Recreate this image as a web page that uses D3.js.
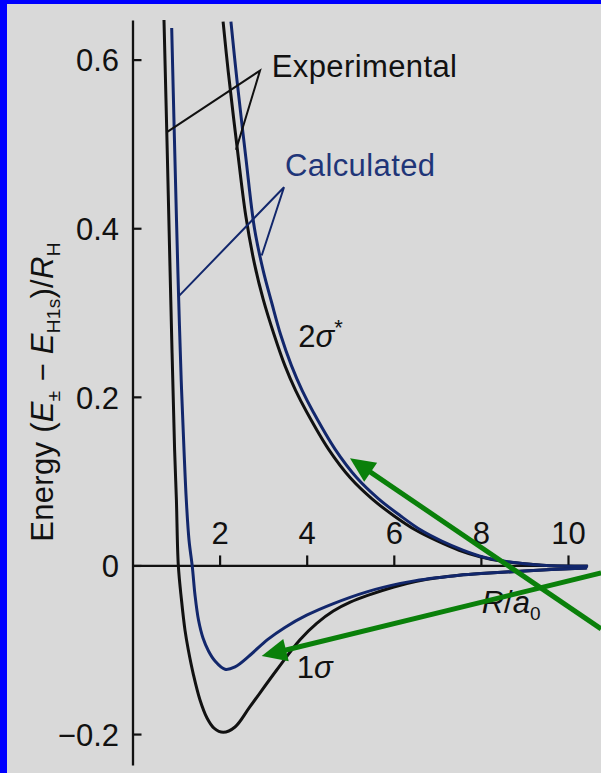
<!DOCTYPE html>
<html>
<head>
<meta charset="utf-8">
<script src="https://cdn.jsdelivr.net/npm/d3@7"></script>
<style>
  html, body { margin: 0; padding: 0; background: #0000ff; }
  svg { display: block; }
  text { font-family: "Liberation Sans", Arial, Helvetica, sans-serif; }
</style>
</head>
<body>
<svg id="chart" width="601" height="773"></svg>
<script>
// ---- data (R in a0, energy in Rydberg units) ----
const expSigmaR  = [0.723, 0.797, 0.879, 0.967, 1.008, 1.052, 1.125, 1.206, 1.281, 1.401, 1.550, 1.711, 1.871, 2.085, 2.354, 2.698, 3.311, 3.846, 4.230, 4.611, 5.0, 5.4, 6.0, 6.5, 7.0, 7.5, 8.0, 9.0, 10.42];
const expSigmaE  = [0.647, 0.493, 0.315, 0.137, 0.078, 0.000, -0.041, -0.077, -0.100, -0.130, -0.1596, -0.181, -0.193, -0.198, -0.1916, -0.1675, -0.124, -0.088, -0.0686, -0.054, -0.0435, -0.0355, -0.0255, -0.019, -0.0145, -0.0115, -0.0095, -0.0065, -0.003];

const calcSigmaR = [0.900, 0.9575, 1.0103, 1.0609, 1.1183, 1.1825, 1.2354, 1.2974, 1.3731, 1.4351, 1.5155, 1.6188, 1.7451, 1.8944, 2.124, 2.354, 2.698, 3.1, 3.5, 4.0, 4.6, 5.4, 6.15, 6.5, 7.0, 7.5, 8.0, 9.0, 10.44];
const calcSigmaE = [0.6376, 0.5166, 0.4098, 0.3149, 0.2200, 0.1370, 0.0777, 0.0302, -0.0014, -0.035, -0.0647, -0.0860, -0.1014, -0.1133, -0.1231, -0.1203, -0.1065, -0.088, -0.0735, -0.059, -0.0455, -0.031, -0.0213, -0.018, -0.0145, -0.0115, -0.0095, -0.0065, -0.003];

const expStarR   = [2.08, 2.2, 2.4, 2.6, 2.8, 3.0, 3.25, 3.5, 3.75, 4.0, 4.5, 5.0, 5.5, 6.0, 6.5, 7.0, 7.5, 8.0, 8.5, 9.0, 9.5, 10.44];
const expStarE   = [0.645, 0.585, 0.497, 0.415, 0.358, 0.316, 0.274, 0.237, 0.207, 0.182, 0.138, 0.104, 0.079, 0.059, 0.042, 0.029, 0.018, 0.010, 0.005, 0.002, 0.000, -0.001];

const calcStarR  = [2.26, 2.4, 2.6, 2.8, 3.0, 3.2, 3.4, 3.65, 3.9, 4.15, 4.65, 5.15, 5.65, 6.15, 6.62, 7.1, 7.6, 8.05, 8.55, 9.0, 9.5, 10.46];
const calcStarE  = [0.645, 0.575, 0.485, 0.400, 0.350, 0.311, 0.274, 0.237, 0.207, 0.182, 0.138, 0.104, 0.079, 0.059, 0.042, 0.029, 0.018, 0.010, 0.005, 0.002, 0.000, -0.001];

const xTicks = [2, 4, 6, 8, 10];
const yTicks = [-0.2, 0, 0.2, 0.4, 0.6];

// leader lines (data units)
const expLeaderR  = [0.808, 2.928, 2.377];
const expLeaderE  = [0.5146, 0.587, 0.4929];
const calcLeaderR = [1.052, 3.479, 2.967];
const calcLeaderE = [0.3189, 0.4486, 0.3677];

// annotation arrows: [R, E] of start (off right edge) and tip
const arrowStarts = [[10.76, -0.0753], [10.76, -0.0089]];
const arrowTips   = [[4.994, 0.1272], [2.967, -0.1074]];

// ---- layout ----
const W = 601, H = 773;
const svg = d3.select("#chart");
svg.append("rect").attr("x", 0).attr("y", 0).attr("width", W).attr("height", H).attr("fill", "#0000ff");
svg.append("rect").attr("x", 7).attr("y", 4).attr("width", W - 7).attr("height", H - 4).attr("fill", "#d9d9d9");

const x = d3.scaleLinear().domain([0, 10.45]).range([132.5, 132.5 + 43.55 * 10.45]);
const y = d3.scaleLinear().domain([-0.2367, 0.647]).range([765, 20]);

const BLACK = "#111111", NAVY = "#12276c", NAVYTXT = "#1f3578", GREEN = "#0a800a";
const FONT = 31, LS = 0.4;

// y axis
const yAxis = d3.axisLeft(y).tickValues(yTicks)
  .tickSizeInner(-9).tickSizeOuter(0).tickPadding(13.5)
  .tickFormat(d => d === 0 ? "0" : d3.format(".1f")(d));
const gy = svg.append("g").attr("transform", `translate(${x(0)},0)`).call(yAxis);
gy.select(".domain").attr("stroke", BLACK).attr("stroke-width", 2.3);
gy.selectAll(".tick line").attr("stroke", BLACK).attr("stroke-width", 2.2);
gy.selectAll(".tick text").attr("font-size", FONT).attr("fill", BLACK)
  .attr("font-family", "'Liberation Sans', Arial, sans-serif").attr("dy", "0.36em");

// x axis (at E = 0)
const xAxis = d3.axisTop(x).tickValues(xTicks).tickSizeInner(10).tickSizeOuter(0).tickPadding(11.5);
const gx = svg.append("g").attr("transform", `translate(0,${y(0)})`).call(xAxis);
gx.select(".domain").attr("stroke", BLACK).attr("stroke-width", 2.3);
gx.selectAll(".tick line").attr("stroke", BLACK).attr("stroke-width", 2.2);
gx.selectAll(".tick text").attr("font-size", FONT).attr("fill", BLACK)
  .attr("font-family", "'Liberation Sans', Arial, sans-serif");

// curves
const line = d3.line().x(d => x(d[0])).y(d => y(d[1])).curve(d3.curveCatmullRom.alpha(0.5));
const zip = (a, b) => a.map((v, i) => [v, b[i]]);
const curves = [
  {R: expSigmaR, E: expSigmaE, c: BLACK},
  {R: expStarR, E: expStarE, c: BLACK},
  {R: calcSigmaR, E: calcSigmaE, c: NAVY},
  {R: calcStarR, E: calcStarE, c: NAVY}
];
svg.selectAll("path.curve").data(curves).enter().append("path")
  .attr("class", "curve")
  .attr("d", d => line(zip(d.R, d.E)))
  .attr("fill", "none").attr("stroke", d => d.c).attr("stroke-width", 3)
  .attr("stroke-linejoin", "round");

// leader lines
const straight = d3.line().x(d => x(d[0])).y(d => y(d[1]));
svg.append("path").attr("d", straight(zip(expLeaderR, expLeaderE)))
  .attr("fill", "none").attr("stroke", BLACK).attr("stroke-width", 2);
svg.append("path").attr("d", straight(zip(calcLeaderR, calcLeaderE)))
  .attr("fill", "none").attr("stroke", NAVY).attr("stroke-width", 2);

// labels
svg.append("text").attr("x", x(3.196)).attr("y", y(0.5791)).attr("font-size", FONT)
  .attr("letter-spacing", LS).attr("fill", BLACK).text("Experimental");
svg.append("text").attr("x", x(3.502)).attr("y", y(0.4624)).attr("font-size", FONT)
  .attr("letter-spacing", LS).attr("fill", NAVYTXT).text("Calculated");

const t2 = svg.append("text").attr("x", x(3.807)).attr("y", y(0.2586)).attr("font-size", FONT).attr("fill", BLACK);
t2.append("tspan").text("2");
t2.append("tspan").attr("font-style", "italic").text("σ");
t2.append("tspan").attr("font-size", 22).attr("dy", -12).text("*");

const t1 = svg.append("text").attr("x", x(3.770)).attr("y", y(-0.1331)).attr("font-size", FONT).attr("fill", BLACK);
t1.append("tspan").text("1");
t1.append("tspan").attr("font-style", "italic").text("σ");

const tr = svg.append("text").attr("x", x(8.018)).attr("y", y(-0.0567)).attr("font-size", FONT).attr("fill", BLACK);
tr.append("tspan").attr("font-style", "italic").text("R");
tr.append("tspan").text("/");
tr.append("tspan").attr("font-style", "italic").text("a");
tr.append("tspan").attr("font-size", 19).attr("dy", 7).text("0");

// y-axis title
const yt = svg.append("text").attr("transform", "translate(53,392) rotate(-90)")
  .attr("text-anchor", "middle").attr("font-size", FONT).attr("letter-spacing", 0.3).attr("fill", BLACK);
yt.append("tspan").text("Energy (");
yt.append("tspan").attr("font-style", "italic").text("E");
yt.append("tspan").attr("font-size", 19).attr("dy", 7).text("±");
yt.append("tspan").attr("dy", -7).text(" − ");
yt.append("tspan").attr("font-style", "italic").text("E");
yt.append("tspan").attr("font-size", 19).attr("dy", 7).text("H1s");
yt.append("tspan").attr("dy", -7).text(")/");
yt.append("tspan").attr("font-style", "italic").text("R");
yt.append("tspan").attr("font-size", 19).attr("dy", 7).text("H");

// green arrows
const headLen = 25, headHalf = 11.5;
arrowStarts.forEach((s, i) => {
  const t = arrowTips[i];
  const x0 = x(s[0]), y0 = y(s[1]), x1 = x(t[0]), y1 = y(t[1]);
  const dx = x1 - x0, dy = y1 - y0, L = Math.hypot(dx, dy);
  const ux = dx / L, uy = dy / L;
  const bx = x1 - ux * headLen, by = y1 - uy * headLen;
  svg.append("line").attr("x1", x0).attr("y1", y0).attr("x2", bx + ux * 2).attr("y2", by + uy * 2)
    .attr("stroke", GREEN).attr("stroke-width", 5);
  svg.append("polygon")
    .attr("points", [[x1, y1], [bx - uy * headHalf, by + ux * headHalf], [bx + uy * headHalf, by - ux * headHalf]].map(p => p.join(",")).join(" "))
    .attr("fill", GREEN);
});
</script>
</body>
</html>
